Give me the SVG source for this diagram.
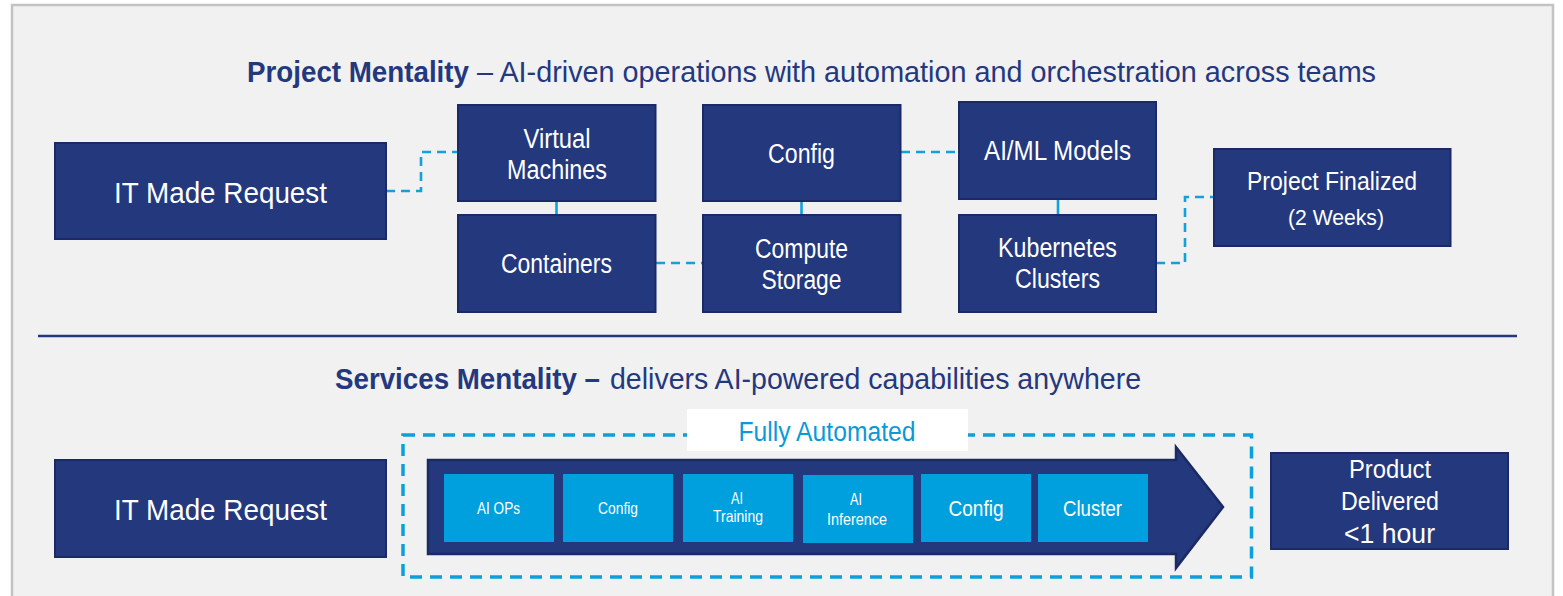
<svg xmlns="http://www.w3.org/2000/svg" width="1563" height="596" viewBox="0 0 1563 596">
<style>
.t{font-family:"Liberation Sans Narrow","Liberation Sans",Arial,sans-serif;}
.box{fill:#24387e;stroke:#1b2a66;stroke-width:2;}
.lb{fill:#009fdd;}
.w{fill:#ffffff;text-anchor:middle;}
.h{fill:#24387e;}
.con{fill:none;stroke:#14a0da;stroke-width:2.6;stroke-dasharray:9 6;}
.solid{fill:none;stroke:#14a0da;stroke-width:2.6;}
</style>
<rect x="12" y="5" width="1541" height="600" fill="#f1f1f1" stroke="#c3c3c3" stroke-width="2.5"/>

<g id="title-project">
<text class="t h" x="247" y="81.5" font-size="29" font-weight="bold" textLength="222" lengthAdjust="spacingAndGlyphs">Project Mentality</text>
<text class="t h" x="477" y="81.5" font-size="29" textLength="899" lengthAdjust="spacingAndGlyphs">– AI-driven operations with automation and orchestration across teams</text>
</g>

<g id="connectors">
<polyline class="con" points="386,191 421,191 421,152 458,152"/>
<line class="solid" x1="556.5" y1="201" x2="556.5" y2="215"/>
<line class="con" x1="656" y1="263" x2="703" y2="263"/>
<line class="solid" x1="801.5" y1="201" x2="801.5" y2="215"/>
<line class="con" x1="901" y1="152" x2="959" y2="152"/>
<line class="solid" x1="1058" y1="199" x2="1058" y2="215"/>
<polyline class="con" points="1156,263 1185,263 1185,197 1214,197"/>
</g>

<g id="it-request-top">
<rect class="box" x="55" y="143" width="331" height="96"/>
<text class="t w" x="220.5" y="203" font-size="29" textLength="213" lengthAdjust="spacingAndGlyphs">IT Made Request</text>
</g>
<g id="virtual-machines">
<rect class="box" x="458" y="105" width="197.5" height="96"/>
<text class="t w" x="557" y="148" font-size="27" textLength="67" lengthAdjust="spacingAndGlyphs">Virtual</text>
<text class="t w" x="557" y="179" font-size="27" textLength="100" lengthAdjust="spacingAndGlyphs">Machines</text>
</g>
<g id="containers">
<rect class="box" x="458" y="215" width="197.5" height="97"/>
<text class="t w" x="556.5" y="273" font-size="27" textLength="111" lengthAdjust="spacingAndGlyphs">Containers</text>
</g>
<g id="config-top">
<rect class="box" x="703" y="105" width="197.5" height="96"/>
<text class="t w" x="801.5" y="163" font-size="27" textLength="67" lengthAdjust="spacingAndGlyphs">Config</text>
</g>
<g id="compute-storage">
<rect class="box" x="703" y="215" width="197.5" height="97"/>
<text class="t w" x="801.5" y="258" font-size="27" textLength="93" lengthAdjust="spacingAndGlyphs">Compute</text>
<text class="t w" x="801.5" y="289" font-size="27" textLength="80" lengthAdjust="spacingAndGlyphs">Storage</text>
</g>
<g id="aiml-models">
<rect class="box" x="959" y="102" width="197" height="97"/>
<text class="t w" x="1057.5" y="160" font-size="27" textLength="147" lengthAdjust="spacingAndGlyphs">AI/ML Models</text>
</g>
<g id="kubernetes-clusters">
<rect class="box" x="959" y="215" width="197" height="97"/>
<text class="t w" x="1057.5" y="257" font-size="27" textLength="119" lengthAdjust="spacingAndGlyphs">Kubernetes</text>
<text class="t w" x="1057.5" y="288" font-size="27" textLength="85" lengthAdjust="spacingAndGlyphs">Clusters</text>
</g>
<g id="project-finalized">
<rect class="box" x="1214" y="149" width="236.5" height="97"/>
<text class="t w" x="1332" y="190" font-size="26" textLength="170" lengthAdjust="spacingAndGlyphs">Project Finalized</text>
<text class="t w" x="1336" y="225" font-size="22" textLength="96" lengthAdjust="spacingAndGlyphs">(2 Weeks)</text>
</g>

<line x1="38" y1="336" x2="1517" y2="336" stroke="#24387e" stroke-width="2.5"/>

<g id="title-services">
<text class="t h" x="335" y="389" font-size="29" font-weight="bold" textLength="265" lengthAdjust="spacingAndGlyphs">Services Mentality –</text>
<text class="t h" x="610" y="389" font-size="29" textLength="531" lengthAdjust="spacingAndGlyphs">delivers AI-powered capabilities anywhere</text>
</g>

<g id="it-request-bottom">
<rect class="box" x="55" y="460" width="331" height="97"/>
<text class="t w" x="220.5" y="520" font-size="29" textLength="213" lengthAdjust="spacingAndGlyphs">IT Made Request</text>
</g>

<g id="automation-frame">
<rect x="403" y="435" width="848.5" height="142" fill="none" stroke="#0aa0dc" stroke-width="3.5" stroke-dasharray="12 8"/>
<rect x="687" y="409" width="281" height="42" fill="#ffffff"/>
<text class="t" x="827" y="441" font-size="27" fill="#0a9ad8" text-anchor="middle" textLength="177" lengthAdjust="spacingAndGlyphs">Fully Automated</text>
</g>

<g id="pipeline-arrow">
<polygon points="428,460 1176,460 1176,447 1223,507 1176,568 1176,554 428,554" fill="#24387e" stroke="#1b2a63" stroke-width="2.5" stroke-linejoin="miter"/>
</g>
<g id="ai-ops">
<rect class="lb" x="444" y="474" width="110" height="68"/>
<text class="t w" x="498.5" y="514" font-size="16.5" textLength="43" lengthAdjust="spacingAndGlyphs">AI OPs</text>
</g>
<g id="config-1">
<rect class="lb" x="563" y="474" width="110" height="68"/>
<text class="t w" x="618" y="514" font-size="16.5" textLength="40" lengthAdjust="spacingAndGlyphs">Config</text>
</g>
<g id="ai-training">
<rect class="lb" x="683" y="474" width="110" height="68"/>
<text class="t w" x="737" y="504" font-size="16.5" textLength="12" lengthAdjust="spacingAndGlyphs">AI</text>
<text class="t w" x="738" y="522" font-size="16.5" textLength="50" lengthAdjust="spacingAndGlyphs">Training</text>
</g>
<g id="ai-inference">
<rect class="lb" x="803" y="475" width="110" height="68"/>
<text class="t w" x="856" y="505" font-size="16.5" textLength="12" lengthAdjust="spacingAndGlyphs">AI</text>
<text class="t w" x="857" y="525" font-size="16.5" textLength="60" lengthAdjust="spacingAndGlyphs">Inference</text>
</g>
<g id="config-2">
<rect class="lb" x="921" y="474" width="110" height="68"/>
<text class="t w" x="976" y="516" font-size="21.5" textLength="55" lengthAdjust="spacingAndGlyphs">Config</text>
</g>
<g id="cluster">
<rect class="lb" x="1038" y="474" width="110" height="68"/>
<text class="t w" x="1092.5" y="516" font-size="21.5" textLength="59" lengthAdjust="spacingAndGlyphs">Cluster</text>
</g>

<g id="product-delivered">
<rect class="box" x="1271" y="453" width="237" height="96"/>
<text class="t w" x="1390" y="478" font-size="25" textLength="82" lengthAdjust="spacingAndGlyphs">Product</text>
<text class="t w" x="1390" y="510" font-size="25" textLength="98" lengthAdjust="spacingAndGlyphs">Delivered</text>
<text class="t w" x="1389.5" y="543" font-size="27" textLength="91" lengthAdjust="spacingAndGlyphs">&lt;1 hour</text>
</g>
</svg>
